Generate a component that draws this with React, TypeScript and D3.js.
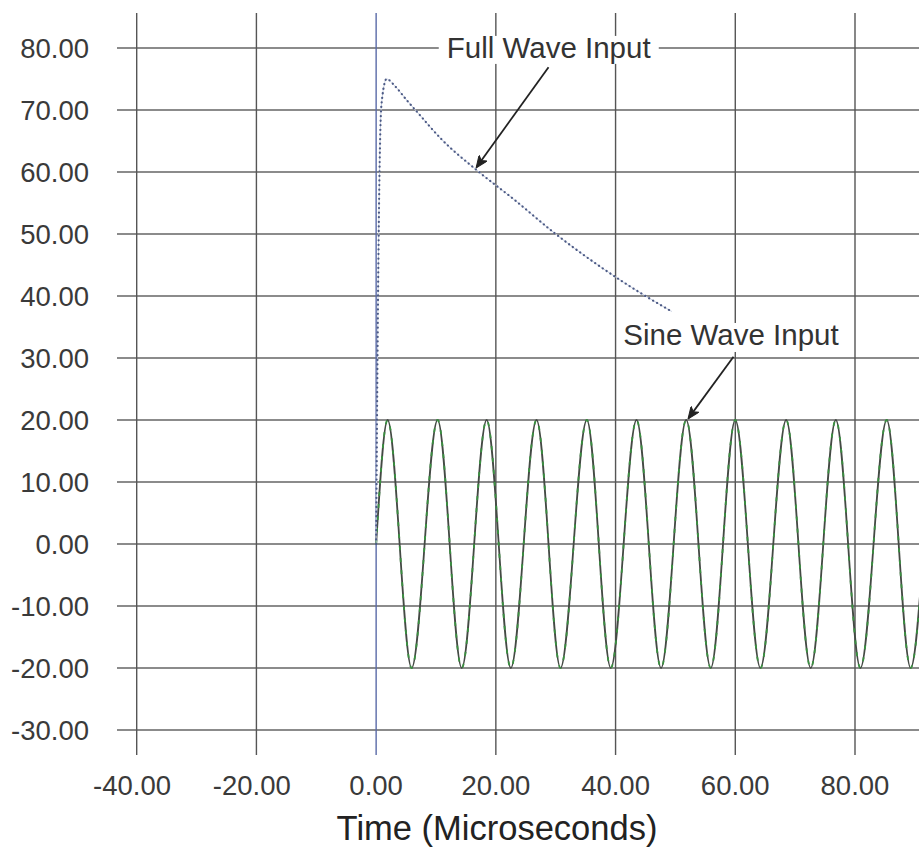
import React from "react";
import * as d3 from "d3";

// axis ticks
const X_TICKS = [-40, -20, 0, 20, 40, 60, 80];
const Y_TICKS = [-30, -20, -10, 0, 10, 20, 30, 40, 50, 60, 70, 80];

// full wave (impulse) input
const FULL_T = [0, 0.3, 0.6, 0.9, 1.75, 3.2, 5.1, 7.1, 10.9, 16.8, 23.0, 30.0, 37.5, 45.0, 49.4];
const FULL_V = [0, 38, 62, 71, 75, 73.8, 71.6, 69.4, 65.3, 60.3, 55.6, 50.0, 44.7, 40.0, 37.5];

// sine wave input: start, peaks / troughs, last visible point
const SINE_T = [
  0, 1.92, 5.93, 10.27, 14.3, 18.46, 22.5, 26.8, 30.8, 35.2, 39.2, 43.5, 47.6,
  51.8, 55.9, 60.0, 64.2, 68.5, 72.6, 76.8, 80.9, 85.3, 89.3, 91.5,
];
const SINE_V = [
  0, 20, -20, 20, -20, 20, -20, 20, -20, 20, -20, 20, -20,
  20, -20, 20, -20, 20, -20, 20, -20, 20, -20, 0,
];

const FONT = "'Liberation Sans', Arial, sans-serif";
const W = 919;
const H = 851;
const GRID_LEFT = 117;
const GRID_TOP = 13;
const TICK_BOTTOM = 755;

const fmt = (v: number) => d3.format(".2f")(v).replace("\u2212", "-");

const App = () => {
  const x = d3.scaleLinear().domain([-40, 80]).range([136.7, 855]);
  const y = d3.scaleLinear().domain([-30, 80]).range([730, 48]);

  const line = d3
    .line<[number, number]>()
    .x((d) => x(d[0]))
    .y((d) => y(d[1]))
    .curve(d3.curveMonotoneX);

  const fullPts: [number, number][] = FULL_T.map((t, i) => [t, FULL_V[i]]);
  const sinePts: [number, number][] = SINE_T.map((t, i) => [t, SINE_V[i]]);
  const fullPath = line(fullPts) || "";
  const sinePath = line(sinePts) || "";

  const tickFs = 27.5;
  const numWidth = (s: string) =>
    (s.replace("-", "").replace(".", "").length * 0.556 + 0.278) * tickFs;

  const fullLabel = { t: 11.8, v: 78.4, w: 206 };
  const sineLabel = { t: 41.3, v: 32.1, w: 214 };
  const fullArrow = { from: [28.8, 76.9], to: [16.8, 60.8] };
  const sineArrow = { from: [59.7, 30.2], to: [52.2, 20.3] };

  return (
    <svg
      width={W}
      height={H}
      style={{ position: "absolute", left: 0, top: 0, background: "#fff" }}
      fontFamily={FONT}
    >
      <defs>
        <marker
          id="head"
          viewBox="0 0 12 10"
          refX="11"
          refY="5"
          markerWidth="13"
          markerHeight="10"
          markerUnits="userSpaceOnUse"
          orient="auto"
        >
          <path d="M0,0 L12,5 L0,10 L3,5 Z" fill="#222" stroke="#222" strokeWidth="1" />
        </marker>
      </defs>

      {/* grid */}
      <g stroke="#656565" strokeWidth={1.4}>
        {Y_TICKS.map((v) => (
          <line key={"h" + v} x1={GRID_LEFT} x2={W} y1={y(v)} y2={y(v)} />
        ))}
        {X_TICKS.map((t) => (
          <line
            key={"v" + t}
            x1={x(t)}
            x2={x(t)}
            y1={GRID_TOP}
            y2={TICK_BOTTOM}
            stroke={t === 0 ? "#5a6aa8" : "#555"}
          />
        ))}
      </g>

      {/* y tick labels */}
      <g fontSize={tickFs} fill="#3a3a3a" textAnchor="end">
        {Y_TICKS.map((v) => (
          <text key={"yl" + v} x={89} y={y(v) + 9.5}>
            {fmt(v)}
          </text>
        ))}
      </g>

      {/* x tick labels */}
      <g fontSize={tickFs} fill="#3a3a3a" textAnchor="end">
        {X_TICKS.map((t) => {
          const s = fmt(t);
          return (
            <text key={"xl" + t} x={x(t) + numWidth(s) / 2} y={795}>
              {s}
            </text>
          );
        })}
      </g>

      <text x={497} y={840} fontSize={34.5} textAnchor="middle" fill="#222">
        Time (Microseconds)
      </text>

      {/* series */}
      <path d={sinePath} fill="none" stroke="#444a44" strokeWidth={1.8} />
      <path
        d={sinePath}
        fill="none"
        stroke="#3a9040"
        strokeWidth={1.8}
        strokeDasharray="4 8"
      />
      <path d={fullPath} fill="none" stroke="#c8d0e2" strokeWidth={1} />
      <path
        d={fullPath}
        fill="none"
        stroke="#4c5a85"
        strokeWidth={2.2}
        strokeDasharray="0.1 4.5"
        strokeLinecap="round"
      />

      {/* annotations */}
      <rect
        x={x(fullLabel.t) - 8}
        y={y(fullLabel.v) - 22}
        width={fullLabel.w + 14}
        height={28}
        fill="#fff"
      />
      <text x={x(fullLabel.t)} y={y(fullLabel.v)} fontSize={29.5} fill="#333">
        Full Wave Input
      </text>
      <line
        x1={x(fullArrow.from[0])}
        y1={y(fullArrow.from[1])}
        x2={x(fullArrow.to[0])}
        y2={y(fullArrow.to[1])}
        stroke="#222"
        strokeWidth={1.8}
        markerEnd="url(#head)"
      />

      <rect
        x={x(sineLabel.t) - 4}
        y={y(sineLabel.v) - 22}
        width={sineLabel.w + 8}
        height={29}
        fill="#fff"
      />
      <text x={x(sineLabel.t)} y={y(sineLabel.v)} fontSize={29.5} fill="#333">
        Sine Wave Input
      </text>
      <line
        x1={x(sineArrow.from[0])}
        y1={y(sineArrow.from[1])}
        x2={x(sineArrow.to[0])}
        y2={y(sineArrow.to[1])}
        stroke="#222"
        strokeWidth={1.8}
        markerEnd="url(#head)"
      />
    </svg>
  );
};

export default App;
